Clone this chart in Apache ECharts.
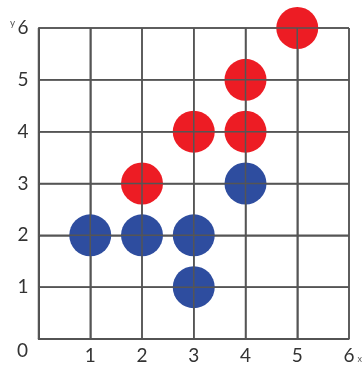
<!DOCTYPE html>
<html><head><meta charset="utf-8">
<script src="https://cdn.jsdelivr.net/npm/echarts@6/dist/echarts.min.js"></script>
<style>html,body{margin:0;padding:0;background:#fff;overflow:hidden}#c{width:363px;height:366px}</style>
</head><body><div id="c"></div>
<script>
const redPoints = [[2,3],[3,4],[4,4],[4,5],[5,6]];
const bluePoints = [[1,2],[2,2],[3,2],[3,1],[4,3]];
const xTicks = [0,1,2,3,4,5,6];
const yTicks = [0,1,2,3,4,5,6];

const xMin = xTicks[0], xMax = xTicks[xTicks.length-1];
const yMin = yTicks[0], yMax = yTicks[yTicks.length-1];
const gridColor = '#555';

const chart = echarts.init(document.getElementById('c'));
const font = 'Lato';

chart.setOption({
  animation: false,
  grid: {left: 38.5, right: 14, top: 28, bottom: 27},
  xAxis: {
    type: 'value', min: xMin, max: xMax, interval: 1,
    axisLine: {show: true, lineStyle: {color: '#444', width: 1.5}},
    axisTick: {show: false},
    splitLine: {show: true, lineStyle: {color: gridColor, width: 1.5}},
    axisLabel: {fontFamily: font, fontSize: 19, color: '#333', margin: 7, showMinLabel: false}
  },
  yAxis: {
    type: 'value', min: yMin, max: yMax, interval: 1,
    axisLine: {show: true, lineStyle: {color: '#444', width: 1.5}},
    axisTick: {show: false},
    splitLine: {show: true, lineStyle: {color: gridColor, width: 1.5}},
    axisLabel: {fontFamily: font, fontSize: 19, color: '#333', margin: 10, showMinLabel: false}
  },
  graphic: [
    {type: 'text', left: 17, top: 341, style: {text: '0', fontFamily: font, fontSize: 19, fill: '#333'}},
    {type: 'text', left: 10, top: 17.5, style: {text: 'y', fontFamily: font, fontSize: 10, fill: '#555'}},
    {type: 'text', left: 357.5, top: 355, style: {text: 'x', fontFamily: font, fontSize: 9, fill: '#555'}}
  ],
  series: [
    {type: 'scatter', data: redPoints, symbolSize: 42, clip: false,
     itemStyle: {color: '#ed1c24', opacity: 1}},
    {type: 'scatter', data: bluePoints, symbolSize: 42, clip: false,
     itemStyle: {color: '#2e4d9f', opacity: 1}},
    {type: 'custom', silent: true, clip: false, z: 3,
     data: xTicks.map(v => [v, yMin]),
     renderItem: function (params, api) {
       const v = api.value(0);
       const p0 = api.coord([v, yMin]);
       const p1 = api.coord([v, yMax]);
       return {type: 'line', shape: {x1: p0[0], y1: p0[1], x2: p1[0], y2: p1[1]},
               style: {stroke: gridColor, lineWidth: 1.5}};
     }},
    {type: 'custom', silent: true, clip: false, z: 3,
     data: yTicks.map(v => [xMin, v]), encode: {x: 0, y: 1},
     renderItem: function (params, api) {
       const v = api.value(1);
       const p0 = api.coord([xMin, v]);
       const p1 = api.coord([xMax, v]);
       return {type: 'line', shape: {x1: p0[0], y1: p0[1], x2: p1[0], y2: p1[1]},
               style: {stroke: gridColor, lineWidth: 1.5}};
     }}
  ]
});
</script></body></html>
